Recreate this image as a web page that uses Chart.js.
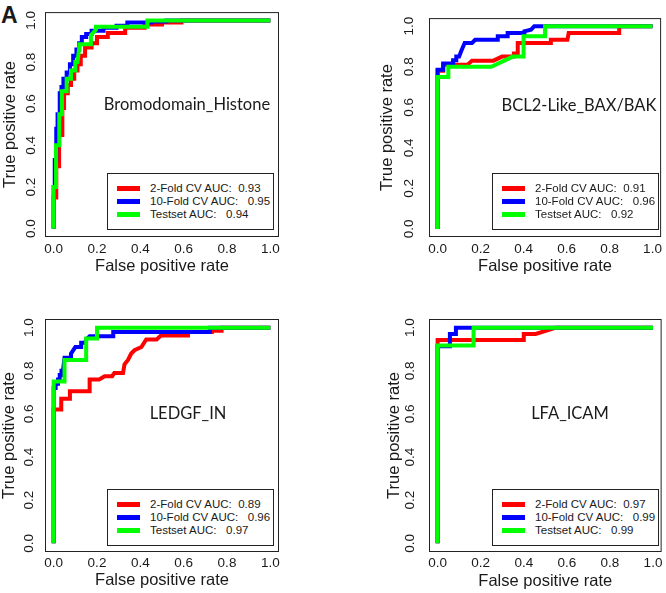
<!DOCTYPE html>
<html lang="en">
<head>
<meta charset="UTF-8">
<title>ROC curves</title>
<script src="https://cdn.jsdelivr.net/npm/chart.js@4.4.0/dist/chart.umd.min.js"></script>
<style>
  body { margin: 0; background: #fff; }
  #wrap { position: relative; width: 666px; height: 593px; overflow: hidden;
          font-family: 'Liberation Sans', Arial, sans-serif; color: #1a1a1a; }
  canvas { position: absolute; }
  .tag { position: absolute; left: 1px; top: 1px; font-weight: bold; font-size: 23px; line-height: 28px; }
  .ptitle { position: absolute; font-family: Lato, 'Open Sans', sans-serif; font-size: 16.5px;
            transform: translate(-50%, -50%); white-space: nowrap; }
  .legend { position: absolute; width: 167px; height: 57px; border: 1px solid #222;
            box-sizing: border-box; background: #fff; }
  .legend .row { position: absolute; left: 0; height: 13px; line-height: 13px; font-size: 11.5px; white-space: pre; }
  .legend i { position: absolute; left: 9px; top: 4px; width: 23px; height: 5px; }
  .legend span { position: absolute; left: 42px; top: 0; }
</style>
</head>
<body>
<div id="wrap"><div class="tag">A</div></div>
<script>
// axis ticks
const fprTicks = [0, 0.2, 0.4, 0.6, 0.8, 1.0];
const tprTicks = [0, 0.2, 0.4, 0.6, 0.8, 1.0];

// series / panels
const seriesNames = ['2-Fold CV AUC:  ', '10-Fold CV AUC:   ', 'Testset AUC:   '];
const seriesColors = ['#ff0000', '#0000ff', '#00ff00'];
const targets = ['Bromodomain_Histone', 'BCL2-Like_BAX/BAK', 'LEDGF_IN', 'LFA_ICAM'];
const aucTwoFold = [0.93, 0.91, 0.89, 0.97];
const aucTenFold = [0.95, 0.96, 0.96, 0.99];
const aucTestset = [0.94, 0.92, 0.97, 0.99];

// Bromodomain_Histone
const bromoTwoFoldFpr = [0, 0, 0.012, 0.012, 0.025, 0.025, 0.04, 0.04, 0.048, 0.048, 0.065, 0.065, 0.08, 0.08, 0.095, 0.095, 0.11, 0.11, 0.125, 0.125, 0.145, 0.145, 0.175, 0.175, 0.2, 0.2, 0.25, 0.25, 0.33, 0.33, 0.42, 0.42, 0.5, 0.5, 0.59, 0.59, 1];
const bromoTwoFoldTpr = [0, 0.15, 0.15, 0.30, 0.30, 0.45, 0.45, 0.58, 0.58, 0.65, 0.65, 0.69, 0.69, 0.72, 0.72, 0.76, 0.76, 0.79, 0.79, 0.83, 0.83, 0.87, 0.87, 0.89, 0.89, 0.92, 0.92, 0.94, 0.94, 0.965, 0.965, 0.98, 0.98, 0.99, 0.99, 1, 1];
const bromoTenFoldFpr = [0, 0, 0.005, 0.005, 0.012, 0.012, 0.018, 0.018, 0.028, 0.028, 0.036, 0.036, 0.045, 0.045, 0.06, 0.06, 0.075, 0.075, 0.09, 0.09, 0.105, 0.105, 0.118, 0.118, 0.13, 0.13, 0.15, 0.15, 0.175, 0.175, 0.23, 0.23, 0.29, 0.29, 0.34, 0.34, 0.45, 0.45, 0.52, 0.52, 1];
const bromoTenFoldTpr = [0, 0.2, 0.2, 0.33, 0.33, 0.48, 0.48, 0.55, 0.55, 0.65, 0.65, 0.68, 0.68, 0.72, 0.72, 0.75, 0.75, 0.79, 0.79, 0.83, 0.83, 0.86, 0.86, 0.89, 0.89, 0.92, 0.92, 0.935, 0.935, 0.95, 0.95, 0.965, 0.965, 0.975, 0.975, 0.99, 0.99, 0.995, 0.995, 1, 1];
const bromoTestFpr = [0, 0, 0.011, 0.011, 0.026, 0.026, 0.038, 0.038, 0.06, 0.06, 0.08, 0.08, 0.1, 0.1, 0.11, 0.12, 0.172, 0.172, 0.195, 0.195, 0.433, 0.433, 1];
const bromoTestTpr = [0, 0.2, 0.2, 0.4, 0.4, 0.55, 0.55, 0.66, 0.66, 0.72, 0.72, 0.76, 0.76, 0.80, 0.80, 0.886, 0.886, 0.93, 0.955, 0.97, 0.97, 1, 1];

// BCL2-Like_BAX/BAK
const bclTwoFoldFpr = [0, 0, 0.026, 0.026, 0.14, 0.16, 0.26, 0.3, 0.355, 0.355, 0.373, 0.373, 0.527, 0.527, 0.604, 0.61, 0.845, 0.845, 1];
const bclTwoFoldTpr = [0, 0.78, 0.78, 0.81, 0.81, 0.83, 0.83, 0.85, 0.85, 0.865, 0.865, 0.917, 0.917, 0.933, 0.933, 0.967, 0.967, 1, 1];
const bclTenFoldFpr = [0, 0, 0.026, 0.026, 0.072, 0.072, 0.087, 0.087, 0.1, 0.11, 0.126, 0.16, 0.175, 0.28, 0.28, 0.326, 0.326, 0.404, 0.404, 0.435, 0.45, 0.49, 1];
const bclTenFoldTpr = [0, 0.785, 0.785, 0.816, 0.816, 0.832, 0.832, 0.85, 0.85, 0.878, 0.917, 0.917, 0.933, 0.933, 0.95, 0.95, 0.966, 0.966, 0.975, 0.983, 1, 1, 1];
const bclTestFpr = [0, 0, 0.05, 0.05, 0.25, 0.35, 0.4, 0.4, 0.5, 0.5, 1];
const bclTestTpr = [0, 0.75, 0.75, 0.8, 0.8, 0.85, 0.85, 0.95, 0.95, 1, 1];

// LEDGF_IN
const ledgfTwoFoldFpr = [0, 0, 0.035, 0.035, 0.075, 0.075, 0.166, 0.166, 0.21, 0.235, 0.27, 0.28, 0.32, 0.327, 0.343, 0.358, 0.373, 0.405, 0.427, 0.475, 0.495, 0.62, 0.62, 0.73, 0.73, 0.775, 0.775, 1];
const ledgfTwoFoldTpr = [0, 0.62, 0.62, 0.67, 0.67, 0.705, 0.705, 0.76, 0.76, 0.775, 0.775, 0.79, 0.79, 0.83, 0.85, 0.88, 0.895, 0.91, 0.945, 0.945, 0.963, 0.963, 0.98, 0.98, 0.986, 0.986, 1, 1];
const ledgfTenFoldFpr = [0, 0, 0.009, 0.009, 0.02, 0.02, 0.028, 0.028, 0.036, 0.036, 0.043, 0.05, 0.08, 0.08, 0.1, 0.127, 0.127, 0.145, 0.15, 0.166, 0.275, 0.275, 0.72, 0.72, 1];
const ledgfTenFoldTpr = [0, 0.72, 0.72, 0.74, 0.74, 0.76, 0.76, 0.78, 0.78, 0.8, 0.8, 0.86, 0.86, 0.88, 0.91, 0.91, 0.93, 0.93, 0.945, 0.96, 0.96, 0.98, 0.98, 1, 1];
const ledgfTestFpr = [0, 0, 0.05, 0.05, 0.15, 0.15, 0.2, 0.2, 1];
const ledgfTestTpr = [0, 0.75, 0.75, 0.85, 0.85, 0.95, 0.95, 1, 1];

// LFA_ICAM
const lfaTwoFoldFpr = [0, 0, 0.4, 0.4, 0.455, 0.55, 1];
const lfaTwoFoldTpr = [0, 0.943, 0.943, 0.971, 0.971, 1, 1];
const lfaTenFoldFpr = [0, 0, 0.057, 0.057, 0.085, 0.085, 1];
const lfaTenFoldTpr = [0, 0.914, 0.914, 0.97, 0.97, 1, 1];
const lfaTestFpr = [0, 0, 0.167, 0.167, 1];
const lfaTestTpr = [0, 0.917, 0.917, 1, 1];

const curves = [
  [[bromoTwoFoldFpr, bromoTwoFoldTpr], [bromoTenFoldFpr, bromoTenFoldTpr], [bromoTestFpr, bromoTestTpr]],
  [[bclTwoFoldFpr, bclTwoFoldTpr], [bclTenFoldFpr, bclTenFoldTpr], [bclTestFpr, bclTestTpr]],
  [[ledgfTwoFoldFpr, ledgfTwoFoldTpr], [ledgfTenFoldFpr, ledgfTenFoldTpr], [ledgfTestFpr, ledgfTestTpr]],
  [[lfaTwoFoldFpr, lfaTwoFoldTpr], [lfaTenFoldFpr, lfaTenFoldTpr], [lfaTestFpr, lfaTestTpr]]
];

// panel placement (canvas box, plot box, paddings, label + legend spots)
const layouts = [
  { left: 0, top: 0, w: 333, h: 296, area: [45, 4, 279, 237], yTitlePad: 0.5, yTickPad: 4, xTickPad: 4, xTitlePad: 20, label: [187, 104], legend: [107, 173] },
  { left: 333, top: 0, w: 333, h: 296, area: [429, 4, 663, 237], yTitlePad: 45, yTickPad: 10, xTickPad: 4, xTitlePad: 20, label: [579, 105], legend: [492, 173] },
  { left: 0, top: 296, w: 333, h: 297, area: [45, 319, 279, 552], yTitlePad: 0, yTickPad: 6, xTickPad: 3.5, xTitlePad: 2.5, label: [188, 413], legend: [107, 489] },
  { left: 333, top: 296, w: 333, h: 297, area: [429, 319, 663, 552], yTitlePad: 52, yTickPad: 9, xTickPad: 3.5, xTitlePad: 1.5, label: [570, 413], legend: [492, 489] }
];

Chart.defaults.font.family = "'Liberation Sans', Arial, sans-serif";
Chart.defaults.color = '#1a1a1a';

const framePlugin = {
  id: 'frame',
  afterDatasetsDraw(chart) {
    const { ctx, chartArea: a } = chart;
    ctx.save();
    ctx.strokeStyle = '#222';
    ctx.lineWidth = 1;
    ctx.strokeRect(a.left + 0.5, a.top + 0.5, a.right - a.left - 1, a.bottom - a.top - 1);
    ctx.restore();
  }
};

const wrap = document.getElementById('wrap');

function makePanel(i) {
  const L = layouts[i];
  const [al, at, ar, ab] = L.area;
  const cv = document.createElement('canvas');
  cv.width = L.w;
  cv.height = L.h;
  cv.style.left = L.left + 'px';
  cv.style.top = L.top + 'px';
  wrap.appendChild(cv);

  new Chart(cv, {
    type: 'scatter',
    data: {
      datasets: curves[i].map((c, k) => ({
        data: c[0].map((x, j) => ({ x: x, y: c[1][j] })),
        showLine: true,
        borderColor: seriesColors[k],
        borderWidth: 4,
        pointRadius: 0,
        tension: 0,
        order: 2 - k
      }))
    },
    options: {
      responsive: false,
      animation: false,
      events: [],
      layout: { padding: { left: 0, top: at - L.top, right: L.left + L.w - ar, bottom: 0 } },
      plugins: { legend: { display: false }, tooltip: { enabled: false } },
      scales: {
        x: {
          type: 'linear', min: -0.04, max: 1.04,
          afterBuildTicks: s => { s.ticks = fprTicks.map(v => ({ value: v })); },
          afterFit: s => { s.height = L.top + L.h - ab; },
          grid: { display: false, drawTicks: false },
          border: { display: false },
          ticks: { padding: L.xTickPad, font: { size: 13.5 }, autoSkip: false, maxRotation: 0,
                   callback: v => v.toFixed(1) },
          title: { display: true, text: 'False positive rate', font: { size: 16.5 },
                   padding: { top: 0, bottom: L.xTitlePad } }
        },
        y: {
          type: 'linear', min: -0.04, max: 1.04,
          afterBuildTicks: s => { s.ticks = tprTicks.map(v => ({ value: v })); },
          afterFit: s => { s.width = al - L.left; },
          grid: { display: false, drawTicks: false },
          border: { display: false },
          ticks: { padding: L.yTickPad, font: { size: 13.5 }, autoSkip: false,
                   minRotation: 90, maxRotation: 90, crossAlign: 'center',
                   callback: v => v.toFixed(1) },
          title: { display: true, text: 'True positive rate', font: { size: 16.5 },
                   padding: { top: L.yTitlePad, bottom: 0 } }
        }
      }
    },
    plugins: [framePlugin]
  });

  const t = document.createElement('div');
  t.className = 'ptitle';
  t.textContent = targets[i];
  t.style.left = L.label[0] + 'px';
  t.style.top = L.label[1] + 'px';
  wrap.appendChild(t);

  const aucs = [aucTwoFold[i], aucTenFold[i], aucTestset[i]];
  const lg = document.createElement('div');
  lg.className = 'legend';
  lg.style.left = L.legend[0] + 'px';
  lg.style.top = L.legend[1] + 'px';
  seriesNames.forEach((name, k) => {
    const row = document.createElement('div');
    row.className = 'row';
    row.style.top = (7.5 + k * 13.3) + 'px';
    row.style.width = '160px';
    const bar = document.createElement('i');
    bar.style.background = seriesColors[k];
    const txt = document.createElement('span');
    txt.textContent = name + aucs[k].toFixed(2);
    row.appendChild(bar);
    row.appendChild(txt);
    lg.appendChild(row);
  });
  wrap.appendChild(lg);
}

for (let i = 0; i < 4; i++) makePanel(i);
</script>
</body>
</html>
